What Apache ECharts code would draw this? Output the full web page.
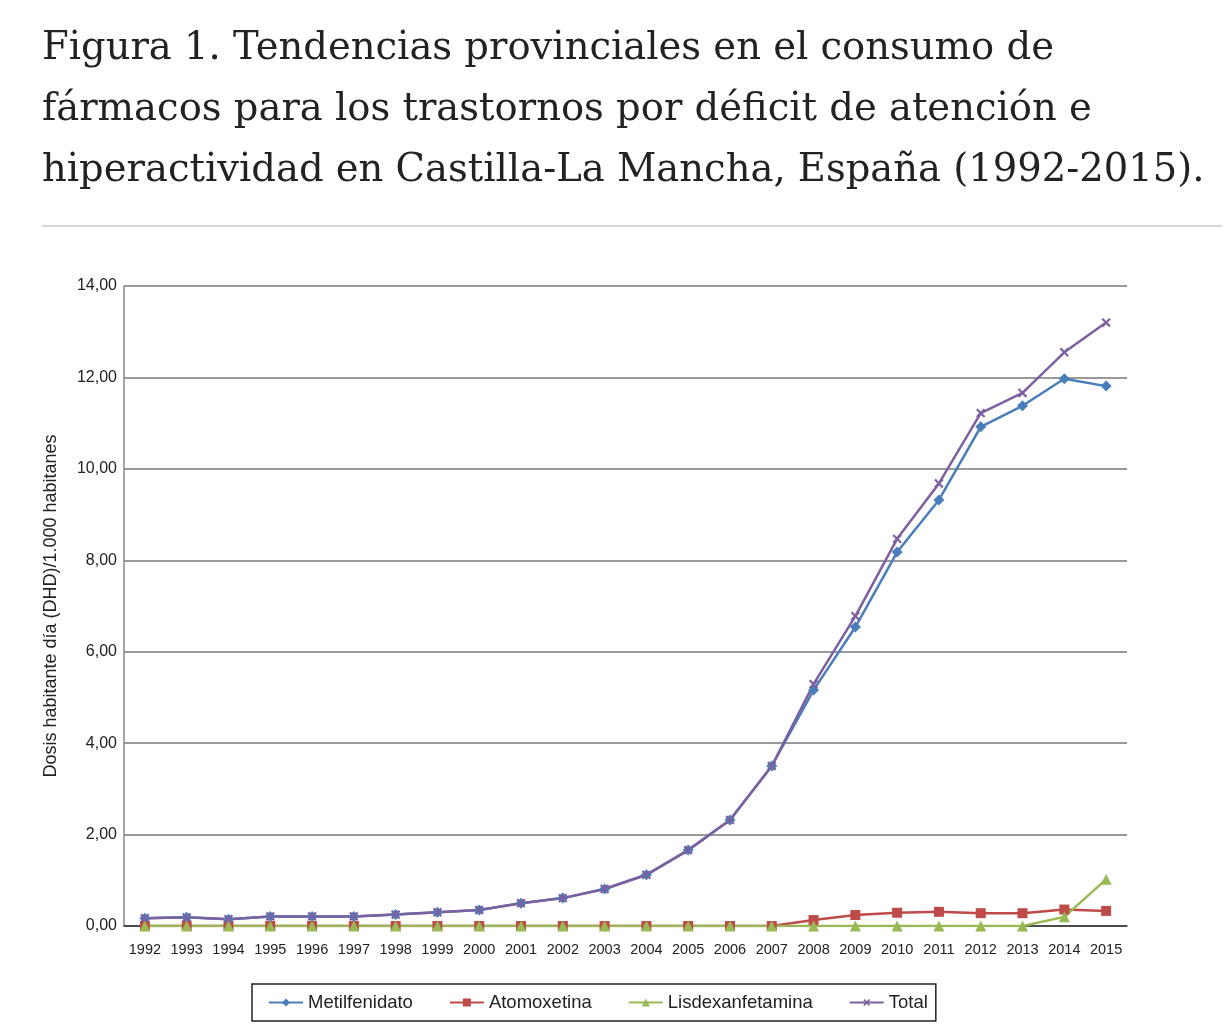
<!DOCTYPE html>
<html>
<head>
<meta charset="utf-8">
<script src="https://cdn.jsdelivr.net/npm/echarts@6/dist/echarts.min.js"></script>
<style>
  html, body { margin: 0; padding: 0; background: #fff; }
  #main { width: 1228px; height: 1034px; }
</style>
</head>
<body>
<div id="main"></div>
<script>
// años
const years = ['1992','1993','1994','1995','1996','1997','1998','1999','2000','2001','2002','2003',
  '2004','2005','2006','2007','2008','2009','2010','2011','2012','2013','2014','2015'];
// DHD por fármaco
const metilfenidato = [0.17,0.19,0.15,0.21,0.21,0.21,0.25,0.30,0.35,0.50,0.61,0.81,
  1.12,1.66,2.32,3.50,5.16,6.54,8.18,9.32,10.92,11.38,11.97,11.81];
const atomoxetina = [0,0,0,0,0,0,0,0,0,0,0,0,
  0,0,0,0,0.13,0.24,0.29,0.31,0.28,0.28,0.36,0.33];
const lisdexanfetamina = [0,0,0,0,0,0,0,0,0,0,0,0,
  0,0,0,0,0,0,0,0,0,0,0.20,1.02];
const total = [0.17,0.19,0.15,0.21,0.21,0.21,0.25,0.30,0.35,0.50,0.61,0.81,
  1.12,1.66,2.32,3.50,5.29,6.78,8.47,9.68,11.22,11.66,12.55,13.20];

const titleLines = [
  'Figura 1. Tendencias provinciales en el consumo de',
  'fármacos para los trastornos por déficit de atención e',
  'hiperactividad en Castilla-La Mancha, España (1992-2015).'
];

const crossIcon = 'path://M4,0H6V4H10V6H6V10H4V6H0V4H4Z';

function serie(name, data, color, symbol, size, extra) {
  return Object.assign({
    name: name,
    type: 'line',
    data: data,
    symbol: symbol,
    symbolSize: size,
    showAllSymbol: true,
    lineStyle: { color: color, width: 2.5 },
    itemStyle: { color: color },
    emphasis: { disabled: true },
    animation: false
  }, extra || {});
}

const chart = echarts.init(document.getElementById('main'));
chart.setOption({
  backgroundColor: '#fff',
  title: {
    text: titleLines.join('\n'),
    left: 37,
    top: 13,
    textStyle: {
      fontFamily: 'DejaVu Serif',
      fontWeight: 'normal',
      fontSize: 38.5,
      lineHeight: 61,
      color: '#222'
    }
  },
  graphic: [{
    type: 'line',
    shape: { x1: 42, y1: 226, x2: 1222, y2: 226 },
    style: { stroke: '#c8c8c8', lineWidth: 1.5 }
  }],
  legend: {
    bottom: 13,
    left: 252,
    data: ['Metilfenidato', 'Atomoxetina', 'Lisdexanfetamina', 'Total'],
    borderColor: '#222',
    borderWidth: 1.5,
    padding: [9, 8, 9, 16],
    itemGap: 36,
    itemWidth: 34,
    itemHeight: 10,
    textStyle: { fontFamily: 'Liberation Sans', fontSize: 18.5, color: '#222' }
  },
  grid: { left: 124, right: 101, top: 286, bottom: 108 },
  xAxis: {
    type: 'category',
    data: years,
    boundaryGap: true,
    axisLine: { lineStyle: { color: '#333', width: 1.5 } },
    axisTick: { show: false },
    axisLabel: {
      interval: 0,
      margin: 16,
      fontFamily: 'Liberation Sans',
      fontSize: 14.5,
      color: '#222'
    }
  },
  yAxis: {
    type: 'value',
    min: 0,
    max: 14,
    interval: 2,
    name: 'Dosis habitante día (DHD)/1.000 habitanes',
    nameLocation: 'middle',
    nameGap: 64,
    nameTextStyle: { fontFamily: 'Liberation Sans', fontSize: 18, color: '#222' },
    axisLine: { show: true, lineStyle: { color: '#888', width: 1.5 } },
    axisTick: { show: false },
    axisLabel: {
      margin: 7,
      fontFamily: 'Liberation Sans',
      fontSize: 16,
      color: '#222',
      formatter: v => v.toFixed(2).replace('.', ',')
    },
    splitLine: { lineStyle: { color: '#777', width: 1.5 } }
  },
  series: [
    serie('Metilfenidato', metilfenidato, '#4a7ebb', 'diamond', 11),
    serie('Atomoxetina', atomoxetina, '#be4b48', 'rect', 10),
    serie('Lisdexanfetamina', lisdexanfetamina, '#98b954', 'triangle', 11),
    serie('Total', total, '#7d60a0', crossIcon, 11, { symbolRotate: 45 })
  ]
});
</script>
</body>
</html>
